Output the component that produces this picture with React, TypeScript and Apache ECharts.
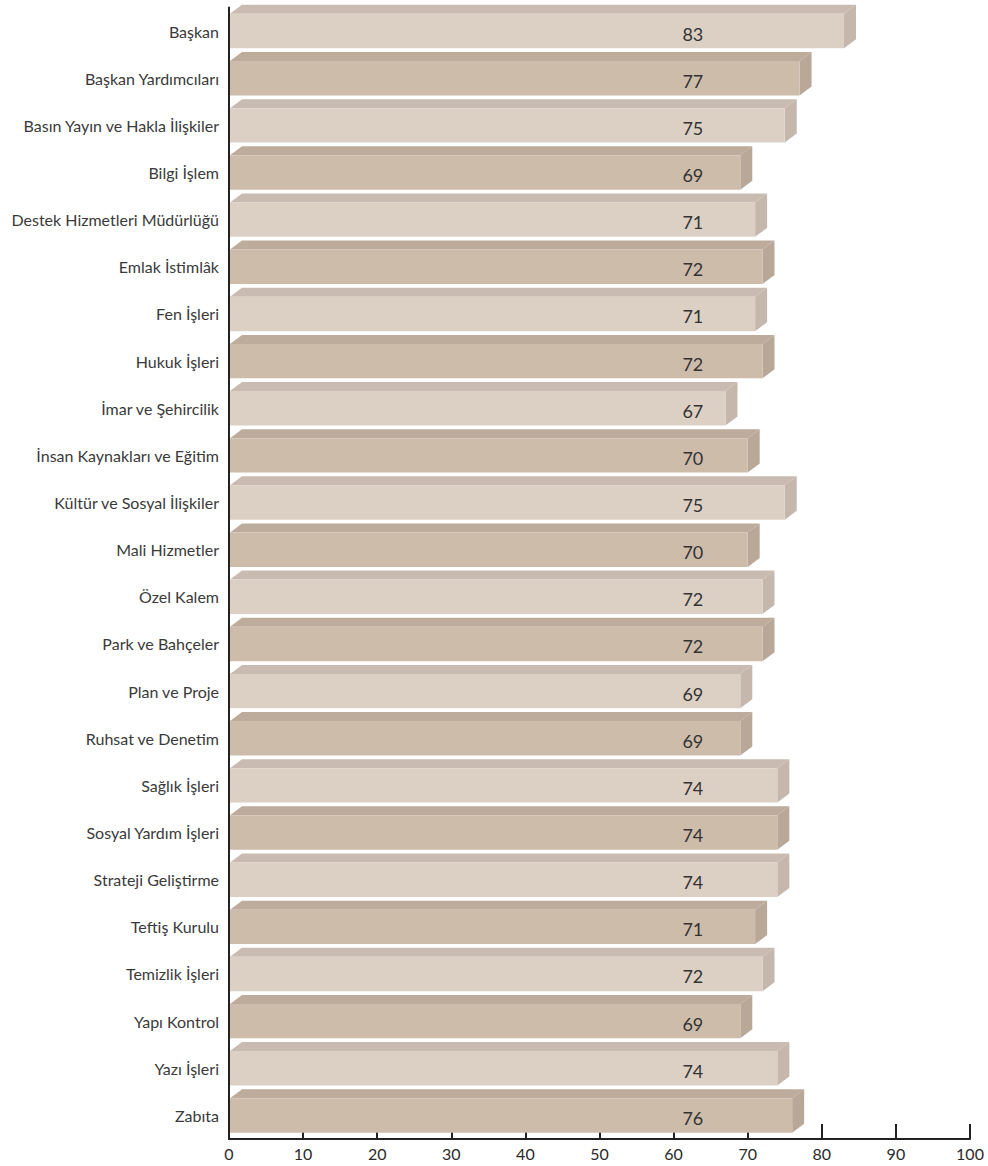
import React, { useEffect, useRef } from "react";
import * as echarts from "echarts";

const categories = [
  "Başkan",
  "Başkan Yardımcıları",
  "Basın Yayın ve Hakla İlişkiler",
  "Bilgi İşlem",
  "Destek Hizmetleri Müdürlüğü",
  "Emlak İstimlâk",
  "Fen İşleri",
  "Hukuk İşleri",
  "İmar ve Şehircilik",
  "İnsan Kaynakları ve Eğitim",
  "Kültür ve Sosyal İlişkiler",
  "Mali Hizmetler",
  "Özel Kalem",
  "Park ve Bahçeler",
  "Plan ve Proje",
  "Ruhsat ve Denetim",
  "Sağlık İşleri",
  "Sosyal Yardım İşleri",
  "Strateji Geliştirme",
  "Teftiş Kurulu",
  "Temizlik İşleri",
  "Yapı Kontrol",
  "Yazı İşleri",
  "Zabıta",
];

const values = [83, 77, 75, 69, 71, 72, 71, 72, 67, 70, 75, 70, 72, 72, 69, 69, 74, 74, 74, 71, 72, 69, 74, 76];

const LABEL_AT = 62.6;
const DX = 12;
const DY = 9;

const palette = [
  { front: "#dcd0c4", top: "#c9bbb1", side: "#c6b7ad" },
  { front: "#cebcab", top: "#bdab9b", side: "#b9a797" },
];

export default function App() {
  const ref = useRef<HTMLDivElement>(null);
  useEffect(() => {
    document.body.style.margin = "0";
    const chart = echarts.init(ref.current!, null, { renderer: "svg" });
    chart.setOption({
      animation: false,
      grid: { left: 229, right: 18, top: 7.5, bottom: 27, containLabel: false },
      xAxis: {
        type: "value",
        min: 0,
        max: 100,
        interval: 10,
        splitLine: { show: false },
        axisLine: { show: true, lineStyle: { color: "#222", width: 2 } },
        axisTick: { show: true, inside: true, length: 15, lineStyle: { color: "#222", width: 2 } },
        axisLabel: { color: "#2a2a2a", fontSize: 16, fontFamily: "Lato", margin: 6 },
      },
      yAxis: {
        type: "category",
        inverse: true,
        data: categories,
        axisLine: { show: true, lineStyle: { color: "#222", width: 2 } },
        axisTick: { show: false },
        axisLabel: { color: "#3a3a3a", fontSize: 16, fontFamily: "Lato", margin: 10 },
      },
      series: [
        {
          type: "custom",
          data: values.map((v, i) => [v, i]),
          encode: { x: 0, y: 1 },
          renderItem: (params: any, api: any) => {
            const v = api.value(0);
            const idx = api.value(1);
            const c = api.coord([v, idx]);
            const c0 = api.coord([0, idx]);
            const lc = api.coord([LABEL_AT, idx]);
            const band = api.size([0, 1])[1];
            const h = band * 0.73;
            const x0 = c0[0] + 1;
            const x1 = c[0];
            const yT = c[1] - h / 2;
            const yB = c[1] + h / 2;
            const col = palette[idx % 2];
            return {
              type: "group",
              children: [
                {
                  type: "polygon",
                  shape: { points: [[x0, yT], [x0 + DX, yT - DY], [x1 + DX, yT - DY], [x1, yT]] },
                  style: { fill: col.top },
                },
                {
                  type: "polygon",
                  shape: { points: [[x1, yT], [x1 + DX, yT - DY], [x1 + DX, yB - DY], [x1, yB]] },
                  style: { fill: col.side },
                },
                {
                  type: "rect",
                  shape: { x: x0, y: yT, width: x1 - x0, height: h },
                  style: { fill: col.front },
                },
                {
                  type: "text",
                  x: lc[0],
                  y: c[1] + 2.5,
                  style: {
                    text: String(v),
                    fill: "#333",
                    fontSize: 18,
                    fontFamily: "Lato",
                    align: "center",
                    verticalAlign: "middle",
                  },
                },
              ],
            };
          },
        },
      ],
    });
    return () => chart.dispose();
  }, []);
  return <div ref={ref} style={{ width: 988, height: 1166 }} />;
}
